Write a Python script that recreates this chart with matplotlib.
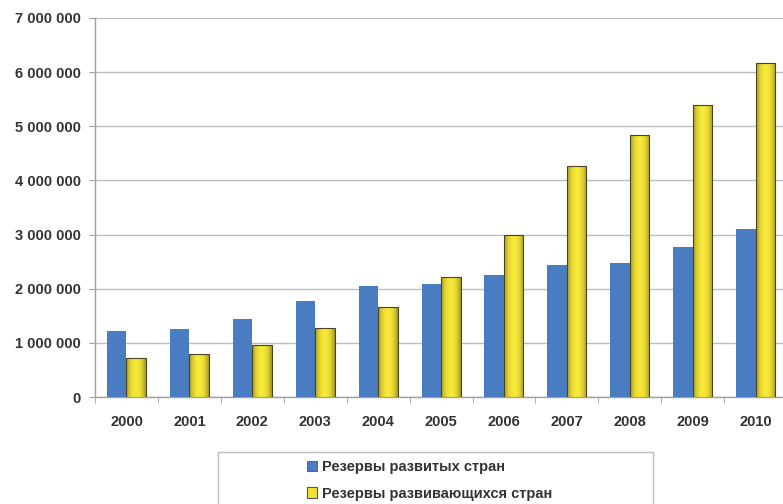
import numpy as np
import matplotlib.pyplot as plt
from matplotlib.patches import Rectangle
from matplotlib.ticker import FuncFormatter

plt.rcParams['font.family'] = ['Liberation Sans', 'DejaVu Sans']

years = ['2000', '2001', '2002', '2003', '2004', '2005',
         '2006', '2007', '2008', '2009', '2010']
developed = [1220000, 1260000, 1440000, 1770000, 2050000, 2080000,
             2250000, 2430000, 2480000, 2770000, 3100000]
developing = [720000, 800000, 960000, 1270000, 1670000, 2220000,
              2990000, 4260000, 4840000, 5400000, 6170000]

label_dev = 'Резервы развитых стран'
label_devg = 'Резервы развивающихся стран'

blue = '#4A7CC2'
yellow = '#F3E235'
text_col = '#333333'

fig = plt.figure(figsize=(7.83, 5.04), dpi=100)
ax = fig.add_axes([0.1213, 0.2123, 0.884, 0.752])

x = np.arange(len(years))
w = 0.31
ax.bar(x - w / 2, developed, w, color=blue, zorder=3)
ybars = ax.bar(x + w / 2, developing, w, color=yellow,
               edgecolor='#4a4520', linewidth=0.8, zorder=3)

# shaded fill for the yellow bars (darker towards the edges)
grad = np.linspace(-1, 1, 64)
shade = 1 - 0.35 * np.abs(grad) ** 2.2
base = np.array([0.97, 0.91, 0.22])
img = (base[None, None, :] * shade[None, :, None]).clip(0, 1)
for b in ybars:
    x0, y0 = b.get_x(), b.get_y()
    im = ax.imshow(img, extent=[x0, x0 + b.get_width(), y0, y0 + b.get_height()],
                   aspect='auto', zorder=3.5, interpolation='bilinear')
    im.set_clip_path(b)
    b.set_zorder(4)
    b.set_facecolor('none')

ax.set_xlim(-0.5, len(years) - 0.5)
ax.set_ylim(0, 7000000)
ax.set_yticks(np.arange(0, 7000001, 1000000))
ax.yaxis.set_major_formatter(FuncFormatter(lambda v, p: f'{int(v):,}'.replace(',', ' ')))
ax.set_xticks(x)
ax.set_xticklabels(years)
ax.set_xticks(np.arange(-0.5, len(years), 1), minor=True)

ax.grid(axis='y', color='#bdbdbd', linewidth=1, zorder=0)
for s in ['top', 'right']:
    ax.spines[s].set_visible(False)
for s in ['left', 'bottom']:
    ax.spines[s].set_color('#a0a0a0')
    ax.spines[s].set_linewidth(1)

ax.tick_params(axis='y', length=4, color='#a0a0a0', labelsize=10.5,
               labelcolor=text_col, pad=6)
ax.tick_params(axis='x', which='major', length=0, labelsize=10.5,
               labelcolor=text_col, pad=13)
ax.tick_params(axis='x', which='minor', length=4, color='#a0a0a0')
for t in ax.get_xticklabels() + ax.get_yticklabels():
    t.set_fontweight('bold')

# legend box
fig.patches.append(Rectangle((218 / 783, -0.01), 435 / 783, 1 - 452 / 504 + 0.01,
                             transform=fig.transFigure, facecolor='white',
                             edgecolor='#c0c0c0', linewidth=1))
h1 = Rectangle((0, 0), 1, 1, facecolor=blue, edgecolor='#555555', linewidth=0.6)
h2 = Rectangle((0, 0), 1, 1, facecolor=yellow, edgecolor='#555555', linewidth=0.8)
fig.legend([h1, h2], [label_dev, label_devg], loc='upper left',
           bbox_to_anchor=(294 / 783, 1 - 447 / 504), frameon=False,
           handlelength=0.7, handleheight=0.7, handletextpad=0.3,
           labelspacing=0.85, prop={'size': 10.5, 'weight': 'bold'},
           labelcolor=text_col)

fig.savefig('out.png', dpi=100)
